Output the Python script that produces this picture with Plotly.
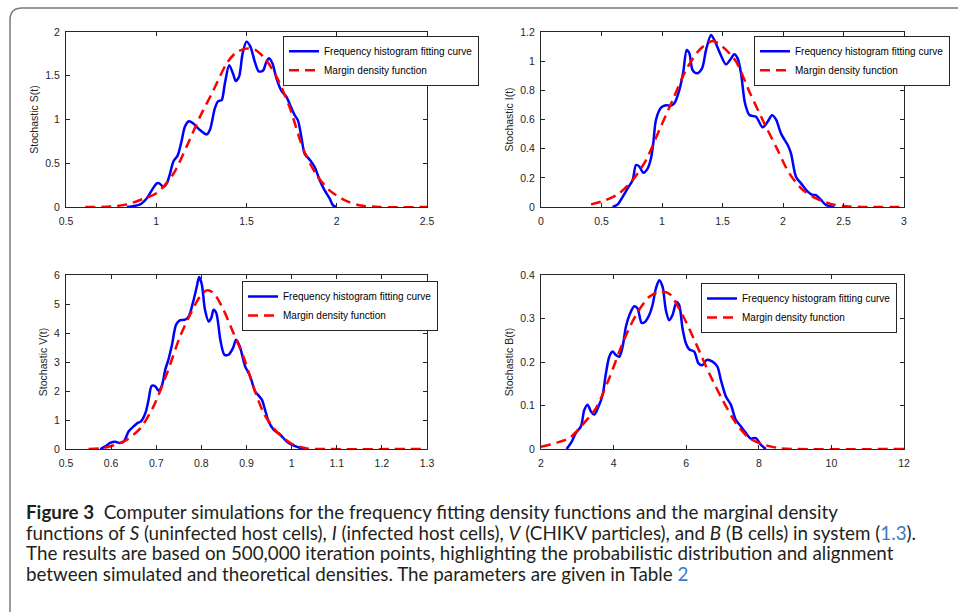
import plotly.graph_objects as go

W, H = 958, 612

# ---------------- data ----------------
s_freq_x = [0.837, 0.911, 0.948, 0.975, 1.003, 1.017, 1.04, 1.058, 1.076, 1.095, 1.119, 1.141, 1.159, 1.181,
            1.205, 1.242, 1.279, 1.297, 1.325, 1.343, 1.362, 1.38, 1.404, 1.426, 1.441, 1.459, 1.478, 1.5,
            1.522, 1.546, 1.568, 1.592, 1.61, 1.625, 1.644, 1.666, 1.693, 1.721, 1.749, 1.767, 1.785, 1.804,
            1.822, 1.85, 1.877, 1.905, 1.933, 1.96, 1.979, 2.0]
s_freq_y = [0.0, 0.03, 0.1, 0.19, 0.27, 0.27, 0.23, 0.27, 0.38, 0.52, 0.59, 0.76, 0.92, 0.98,
            0.955, 0.88, 0.83, 0.88, 1.13, 1.21, 1.22, 1.41, 1.62, 1.52, 1.44, 1.49, 1.75, 1.89,
            1.83, 1.66, 1.55, 1.56, 1.66, 1.70, 1.64, 1.47, 1.33, 1.26, 1.13, 1.05, 0.99, 0.80,
            0.61, 0.54, 0.46, 0.31, 0.19, 0.10, 0.02, 0.0]
s_marg_x = [0.607, 0.75, 0.837, 0.911, 1.003, 1.095, 1.168, 1.242, 1.316, 1.39, 1.445, 1.5, 1.546, 1.601,
            1.666, 1.739, 1.813, 1.887, 1.96, 2.052, 2.126, 2.237, 2.5]
s_marg_y = [0.0, 0.005, 0.03, 0.08, 0.16, 0.38, 0.69, 1.03, 1.33, 1.64, 1.77, 1.81, 1.80, 1.70,
            1.49, 1.14, 0.67, 0.37, 0.19, 0.07, 0.02, 0.0, 0.0]

i_freq_x = [0.592, 0.634, 0.675, 0.716, 0.758, 0.785, 0.813, 0.846, 0.882, 0.909, 0.928, 0.95, 0.992, 1.033,
            1.074, 1.102, 1.143, 1.176, 1.204, 1.226, 1.253, 1.289, 1.331, 1.364, 1.405, 1.433, 1.474, 1.529,
            1.562, 1.598, 1.625, 1.653, 1.686, 1.722, 1.777, 1.832, 1.873, 1.909, 1.942, 1.983, 2.039, 2.066,
            2.107, 2.149, 2.204, 2.245, 2.273, 2.314, 2.355, 2.424]
i_freq_y = [0.0, 0.018, 0.07, 0.128, 0.185, 0.288, 0.277, 0.235, 0.265, 0.334, 0.437, 0.597, 0.681, 0.697,
            0.695, 0.711, 0.802, 0.928, 1.077, 1.054, 0.939, 0.917, 0.951, 1.077, 1.18, 1.145, 1.065, 0.978,
            1.008, 1.047, 1.019, 0.917, 0.711, 0.631, 0.619, 0.546, 0.585, 0.629, 0.601, 0.505, 0.425, 0.368,
            0.208, 0.162, 0.105, 0.082, 0.082, 0.048, 0.014, 0.0]
i_marg_x = [0.413, 0.537, 0.647, 0.758, 0.868, 0.978, 1.088, 1.198, 1.309, 1.419, 1.501, 1.612, 1.722,
            1.832, 1.942, 2.052, 2.163, 2.273, 2.41, 2.52, 2.66, 3.0]
i_marg_y = [0.018, 0.048, 0.094, 0.185, 0.322, 0.528, 0.734, 0.939, 1.077, 1.138, 1.099, 0.997, 0.791,
            0.597, 0.414, 0.231, 0.117, 0.059, 0.018, 0.005, 0.0, 0.0]

v_freq_x = [0.576, 0.587, 0.598, 0.609, 0.619, 0.628, 0.639, 0.65, 0.659, 0.666, 0.676, 0.683, 0.69, 0.698,
            0.705, 0.713, 0.72, 0.727, 0.735, 0.744, 0.753, 0.764, 0.772, 0.781, 0.79, 0.795, 0.801, 0.808,
            0.816, 0.822, 0.827, 0.833, 0.842, 0.851, 0.86, 0.87, 0.877, 0.885, 0.897, 0.908, 0.919, 0.927,
            0.934, 0.941, 0.949, 0.96, 0.975, 0.989, 1.0, 1.015, 1.026]
v_freq_y = [0.0, 0.09, 0.21, 0.25, 0.21, 0.26, 0.61, 0.78, 0.90, 0.95, 1.24, 1.70, 2.18, 2.16,
            2.01, 2.21, 2.74, 3.08, 3.60, 4.29, 4.44, 4.46, 4.57, 5.03, 5.61, 5.93, 5.67, 4.80,
            4.40, 4.52, 4.80, 4.69, 3.77, 3.25, 3.25, 3.48, 3.77, 3.54, 2.85, 2.51, 1.99, 1.84,
            1.70, 1.36, 0.95, 0.67, 0.49, 0.26, 0.15, 0.06, 0.0]
v_marg_x = [0.55, 0.576, 0.606, 0.635, 0.665, 0.694, 0.724, 0.753, 0.775, 0.797, 0.812, 0.827, 0.849,
            0.871, 0.893, 0.915, 0.938, 0.96, 0.982, 1.004, 1.034, 1.063, 1.3]
v_marg_y = [0.0, 0.02, 0.13, 0.32, 0.72, 1.47, 2.62, 3.89, 4.63, 5.26, 5.47, 5.38, 4.80,
            4.0, 3.20, 2.16, 1.24, 0.72, 0.38, 0.15, 0.02, 0.0, 0.0]

b_freq_x = [2.706, 2.826, 2.963, 3.101, 3.193, 3.284, 3.376, 3.468, 3.587, 3.697, 3.789, 3.881, 3.972, 4.064,
            4.156, 4.248, 4.339, 4.45, 4.569, 4.661, 4.771, 4.862, 4.982, 5.073, 5.165, 5.257, 5.349, 5.44,
            5.532, 5.624, 5.734, 5.807, 5.899, 5.991, 6.083, 6.22, 6.339, 6.45, 6.569, 6.725, 6.862, 6.954,
            7.092, 7.229, 7.367, 7.505, 7.642, 7.78, 7.917, 8.055, 8.193]
b_freq_y = [0.0, 0.014, 0.037, 0.052, 0.09, 0.102, 0.086, 0.079, 0.098, 0.124, 0.174, 0.212, 0.224, 0.216,
            0.212, 0.235, 0.281, 0.311, 0.328, 0.323, 0.29, 0.292, 0.308, 0.331, 0.369, 0.388, 0.373, 0.319,
            0.296, 0.308, 0.338, 0.331, 0.277, 0.243, 0.229, 0.224, 0.197, 0.193, 0.205, 0.201, 0.189, 0.159,
            0.121, 0.102, 0.067, 0.052, 0.037, 0.024, 0.025, 0.01, 0.0]
b_marg_x = [2.0, 2.413, 2.78, 3.147, 3.514, 3.881, 4.248, 4.615, 4.982, 5.257, 5.532, 5.899, 6.266,
            6.633, 7.0, 7.367, 7.734, 8.101, 8.56, 9.018, 12.0]
b_marg_y = [0.005, 0.014, 0.025, 0.056, 0.094, 0.163, 0.243, 0.308, 0.35, 0.361, 0.357, 0.308, 0.243,
            0.174, 0.113, 0.06, 0.025, 0.011, 0.002, 0.0, 0.0]

y_titles = ["Stochastic S(t)", "Stochastic I(t)", "Stochastic V(t)", "Stochastic B(t)"]
x_ranges = [[0.5, 2.5], [0, 3], [0.5, 1.3], [2, 12]]
x_dticks = [0.5, 0.5, 0.1, 2]
y_ranges = [[0, 2], [0, 1.2], [0, 6], [0, 0.4]]
y_dticks = [0.5, 0.2, 1, 0.1]
legend_names = ["Frequency histogram fitting curve", "Margin density function"]

LINK = "#3b7cc9"
caption_lines = [
    "<b>Figure 3</b>  Computer simulations for the frequency fitting density functions and the marginal density",
    "functions of <i>S</i> (uninfected host cells), <i>I</i> (infected host cells), <i>V</i> (CHIKV particles), "
    "and <i>B</i> (B cells) in system (<span style='color:" + LINK + "'>1.3</span>).",
    "The results are based on 500,000 iteration points, highlighting the probabilistic distribution and alignment",
    "between simulated and theoretical densities. The parameters are given in Table "
    "<span style='color:" + LINK + "'>2</span>",
]

panels = [(s_freq_x, s_freq_y, s_marg_x, s_marg_y),
          (i_freq_x, i_freq_y, i_marg_x, i_marg_y),
          (v_freq_x, v_freq_y, v_marg_x, v_marg_y),
          (b_freq_x, b_freq_y, b_marg_x, b_marg_y)]

# ---------------- layout geometry (pixels) ----------------
boxes = [(66, 427, 32, 207), (541, 904, 32, 207), (66, 427, 275, 449), (541, 904, 275, 449)]
legend_pos = [(283, 35.7), (754, 35.7), (242, 281), (701, 283)]
caption_centers = [511.5, 532.2, 552.9, 573.6]

AXC = "#262626"
FONT = "Liberation Sans, Arial, Helvetica, sans-serif"

fig = go.Figure()
layout = dict(width=W, height=H, margin=dict(l=0, r=0, t=0, b=0, autoexpand=False),
              paper_bgcolor="white", plot_bgcolor="white", showlegend=True,
              font=dict(family=FONT, size=10, color=AXC))

for k, (fx, fy, mx, my) in enumerate(panels):
    n = "" if k == 0 else str(k + 1)
    leg = "legend" if k == 0 else "legend" + str(k + 1)
    fig.add_trace(go.Scatter(x=fx, y=fy, mode="lines", name=legend_names[0],
                             line=dict(color="#0000FF", width=2.5, shape="spline", smoothing=0.8),
                             xaxis="x" + n, yaxis="y" + n, legend=leg))
    fig.add_trace(go.Scatter(x=mx, y=my, mode="lines", name=legend_names[1],
                             line=dict(color="#FF0000", width=2.5, dash="10px,6px", shape="spline", smoothing=0.8),
                             xaxis="x" + n, yaxis="y" + n, legend=leg))
    x0, x1, yt, yb = boxes[k]
    common = dict(showline=True, linecolor=AXC, linewidth=1, mirror="allticks", ticks="inside",
                  ticklen=4, tickcolor=AXC, showgrid=False, zeroline=False, automargin=False,
                  tickfont=dict(family=FONT, size=10.5, color=AXC))
    layout["xaxis" + n] = dict(domain=[x0 / W, x1 / W], range=x_ranges[k], dtick=x_dticks[k],
                               tick0=x_ranges[k][0], anchor="y" + n, ticklabelstandoff=4, **common)
    layout["yaxis" + n] = dict(domain=[1 - yb / H, 1 - yt / H], range=y_ranges[k], dtick=y_dticks[k],
                               tick0=0, anchor="x" + n, ticklabelstandoff=3,
                               title=dict(text=y_titles[k], font=dict(family=FONT, size=10.5, color=AXC),
                                          standoff=4), **common)
    lx, ly = legend_pos[k]
    layout[leg] = dict(x=lx / W, y=1 - ly / H, xanchor="left", yanchor="top",
                       bgcolor="white", bordercolor=AXC, borderwidth=1,
                       font=dict(family=FONT, size=10, color="#000000"),
                       tracegroupgap=0, itemwidth=30)

# frame with rounded top-left corner
layout["shapes"] = [dict(type="path", xref="paper", yref="paper",
                         path=f"M {10/W},0 L {10/W},{1-20/H} Q {10/W},{1-8/H} {22/W},{1-8/H} L 1,{1-8/H}",
                         line=dict(color="#7a7a7a", width=1.5))]

layout["annotations"] = [dict(text=t, xref="paper", yref="paper", x=24 / W, y=1 - c / H,
                              xanchor="left", yanchor="middle", align="left", showarrow=False,
                              font=dict(family="Lato, Noto Sans, sans-serif", size=18.8, color="#231f20"))
                         for t, c in zip(caption_lines, caption_centers)]

fig.update_layout(**layout)
fig.write_html("out.html", config={"displayModeBar": False},
               post_script="document.body.style.margin='0px';document.body.style.overflow='hidden';")
